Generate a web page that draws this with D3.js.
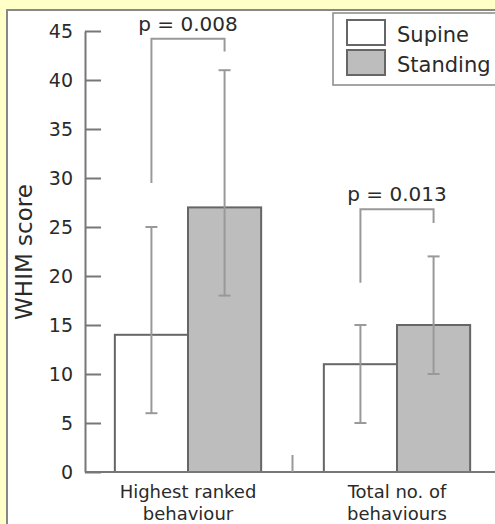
<!DOCTYPE html>
<html>
<head>
<meta charset="utf-8">
<script src="https://cdn.jsdelivr.net/npm/d3@7"></script>
<style>
  html, body { margin: 0; padding: 0; background: #ffffc8; }
  svg { display: block; }
  text { font-family: "DejaVu Sans", sans-serif; fill: #2a2a2a; }
</style>
</head>
<body>
<script>
// ---- data ----
const categories = ["Highest ranked\nbehaviour", "Total no. of\nbehaviours"];
const series = ["Supine", "Standing"];
const means = [[14, 27], [11, 15]];          // [category][series]
const errLow = [[6, 18], [5, 10]];
const errHigh = [[25, 41], [15, 22]];
const pLabels = ["p = 0.008", "p = 0.013"];
const bracketTop = [44.2, 26.8];
const bracketLeftEnd = [29.5, 19.3];
const bracketRightEnd = [42.9, 25.4];
const yTicks = [0, 5, 10, 15, 20, 25, 30, 35, 40, 45];
const yLabel = "WHIM score";
const fills = ["#ffffff", "#bdbdbd"];

const W = 495, H = 524;
const svg = d3.select("body").append("svg").attr("width", W).attr("height", H);

// yellow page and white panel with gray frame
svg.append("rect").attr("x", 0).attr("y", 0).attr("width", W).attr("height", H).attr("fill", "#ffffc8");
svg.append("rect").attr("x", 7).attr("y", 10).attr("width", W + 10).attr("height", H + 10)
  .attr("fill", "#ffffff").attr("stroke", "#888").attr("stroke-width", 2);

const y = d3.scaleLinear().domain([0, 45]).range([472, 31]);
const x = d3.scaleBand().domain(categories).range([83.5, 501.5]).padding(0);
const bw = x.bandwidth();
const xs = d3.scaleBand().domain(series).range([bw * 0.15, bw * 0.85]).padding(0);

// y axis
const yAxis = d3.axisLeft(y).tickValues(yTicks).tickSizeInner(-16).tickSizeOuter(0).tickPadding(12);
const ya = svg.append("g").attr("transform", "translate(85,0)").call(yAxis);
ya.select(".domain").attr("stroke", "#777").attr("stroke-width", 2);
ya.selectAll(".tick line").attr("stroke", "#777").attr("stroke-width", 2);
ya.selectAll(".tick text").style("font-family", "DejaVu Sans, sans-serif").style("font-size", "19px")
  .attr("fill", "#2a2a2a").attr("dy", "0.36em");

// bars
const groups = svg.selectAll("g.cat").data(categories).enter().append("g")
  .attr("class", "cat").attr("transform", d => `translate(${x(d)},0)`);

groups.each(function(cat, ci) {
  const g = d3.select(this);
  series.forEach((s, si) => {
    g.append("rect")
      .attr("x", xs(s)).attr("width", xs.bandwidth())
      .attr("y", y(means[ci][si])).attr("height", y(0) - y(means[ci][si]))
      .attr("fill", fills[si]).attr("stroke", "#666").attr("stroke-width", 2);
  });
  series.forEach((s, si) => {
    const cx = xs(s) + xs.bandwidth() / 2;
    g.append("line").attr("x1", cx).attr("x2", cx)
      .attr("y1", y(errLow[ci][si])).attr("y2", y(errHigh[ci][si]))
      .attr("stroke", "#999").attr("stroke-width", 2);
    [errLow[ci][si], errHigh[ci][si]].forEach(v => {
      g.append("line").attr("x1", cx - 6).attr("x2", cx + 6)
        .attr("y1", y(v)).attr("y2", y(v))
        .attr("stroke", "#999").attr("stroke-width", 2);
    });
  });
  // bracket
  const lx = xs(series[0]) + xs.bandwidth() / 2;
  const rx = xs(series[1]) + xs.bandwidth() / 2;
  g.append("path")
    .attr("d", `M${lx},${y(bracketLeftEnd[ci])}V${y(bracketTop[ci])}H${rx}V${y(bracketRightEnd[ci])}`)
    .attr("fill", "none").attr("stroke", "#999").attr("stroke-width", 2);
  g.append("text").attr("x", (lx + rx) / 2).attr("y", y(bracketTop[ci]) - 8)
    .attr("text-anchor", "middle").style("font-size", "20px").text(pLabels[ci]);
  // category label
  const lines = cat.split("\n");
  lines.forEach((ln, li) => {
    g.append("text").attr("x", bw / 2).attr("y", 498 + li * 22)
      .attr("text-anchor", "middle").style("font-size", "18px").text(ln);
  });
});

// x baseline and separator
svg.append("line").attr("x1", 85).attr("x2", W).attr("y1", y(0)).attr("y2", y(0))
  .attr("stroke", "#777").attr("stroke-width", 2);
svg.append("line").attr("x1", x(categories[1])).attr("x2", x(categories[1]))
  .attr("y1", y(0)).attr("y2", y(0) - 17)
  .attr("stroke", "#999").attr("stroke-width", 2);

// y label
svg.append("text").attr("transform", "translate(32,252) rotate(-90)")
  .attr("text-anchor", "middle").style("font-size", "23px").text(yLabel);

// legend
const lg = svg.append("g");
lg.append("rect").attr("x", 333).attr("y", 13).attr("width", 200).attr("height", 72)
  .attr("fill", "#fff").attr("stroke", "#888").attr("stroke-width", 1.5);
series.forEach((s, i) => {
  lg.append("rect").attr("x", 347).attr("y", 20 + i * 30).attr("width", 38).attr("height", 25)
    .attr("fill", fills[i]).attr("stroke", "#666").attr("stroke-width", 2);
  lg.append("text").attr("x", 397).attr("y", 42 + i * 30).style("font-size", "21px").text(s);
});
</script>
</body>
</html>
